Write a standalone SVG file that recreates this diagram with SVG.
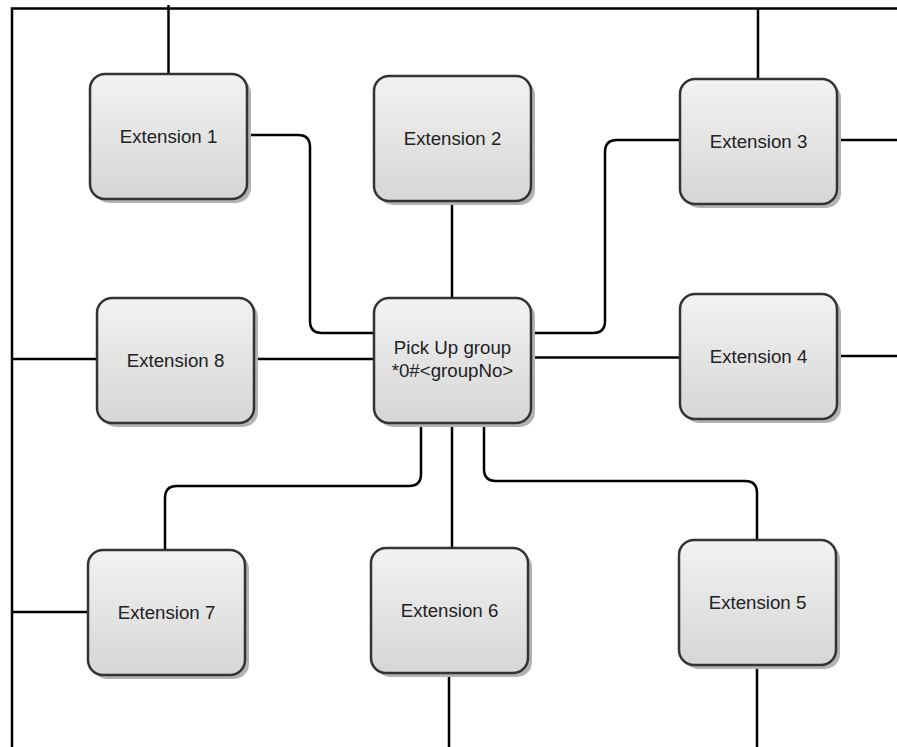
<svg xmlns="http://www.w3.org/2000/svg" width="897" height="747" viewBox="0 0 897 747">
<defs>
<linearGradient id="g" x1="0" y1="0" x2="0" y2="1">
<stop offset="0" stop-color="#f2f2f2"/>
<stop offset="1" stop-color="#d6d6d6"/>
</linearGradient>
<style>
.sh{fill:#b3b3b3}
.bx{fill:url(#g);stroke:#333;stroke-width:2.5}
.t{font-family:"Liberation Sans",Arial,sans-serif;font-size:18.7px;fill:#222;text-anchor:middle}
.c{fill:none;stroke:#000;stroke-width:2.5}
</style>
</defs>
<rect width="897" height="747" fill="#fff"/>
<g id="connectors">
<path class="c" d="M12,747 V8.5 H897"/>
<path class="c" d="M168.5,5 V74"/>
<path class="c" d="M758,8.5 V79"/>
<path class="c" d="M838,140 H897"/>
<path class="c" d="M680,140 H617 Q605,140 605,152 V321 Q605,333 593,333 H532"/>
<path class="c" d="M247,135 H298 Q310,135 310,147 V321 Q310,333 322,333 H374"/>
<path class="c" d="M452,201 V298"/>
<path class="c" d="M12,359 H97"/>
<path class="c" d="M253,359 H374"/>
<path class="c" d="M532,357.5 H680"/>
<path class="c" d="M838,356 H897"/>
<path class="c" d="M421,423 V474 Q421,486 409,486 H177 Q165,486 165,498 V550"/>
<path class="c" d="M12,612 H88"/>
<path class="c" d="M452,423 V548"/>
<path class="c" d="M449,673 V747"/>
<path class="c" d="M484,423 V469 Q484,481 496,481 H745 Q757,481 757,493 V540"/>
<path class="c" d="M757,666 V747"/>
</g>
<g id="ext1"><rect class="sh" x="94" y="78" width="157" height="125" rx="15"/><rect class="bx" x="90" y="74" width="157" height="125" rx="15"/><text class="t" x="168.5" y="143">Extension 1</text></g>
<g id="ext2"><rect class="sh" x="378" y="80" width="157" height="125" rx="15"/><rect class="bx" x="374" y="76" width="157" height="125" rx="15"/><text class="t" x="452.5" y="145">Extension 2</text></g>
<g id="ext3"><rect class="sh" x="684" y="83" width="157" height="125" rx="15"/><rect class="bx" x="680" y="79" width="157" height="125" rx="15"/><text class="t" x="758.5" y="148">Extension 3</text></g>
<g id="ext8"><rect class="sh" x="101" y="302" width="157" height="125" rx="15"/><rect class="bx" x="97" y="298" width="157" height="125" rx="15"/><text class="t" x="175.5" y="367">Extension 8</text></g>
<g id="pickup"><rect class="sh" x="378" y="302" width="157" height="125" rx="15"/><rect class="bx" x="374" y="298" width="157" height="125" rx="15"/><text class="t" x="452.5" y="354">Pick Up group</text><text class="t" x="452.5" y="377">*0#&lt;groupNo&gt;</text></g>
<g id="ext4"><rect class="sh" x="684" y="298" width="157" height="125" rx="15"/><rect class="bx" x="680" y="294" width="157" height="125" rx="15"/><text class="t" x="758.5" y="363">Extension 4</text></g>
<g id="ext7"><rect class="sh" x="92" y="554" width="157" height="125" rx="15"/><rect class="bx" x="88" y="550" width="157" height="125" rx="15"/><text class="t" x="166.5" y="619">Extension 7</text></g>
<g id="ext6"><rect class="sh" x="375" y="552" width="157" height="125" rx="15"/><rect class="bx" x="371" y="548" width="157" height="125" rx="15"/><text class="t" x="449.5" y="617">Extension 6</text></g>
<g id="ext5"><rect class="sh" x="683" y="544" width="157" height="125" rx="15"/><rect class="bx" x="679" y="540" width="157" height="125" rx="15"/><text class="t" x="757.5" y="609">Extension 5</text></g>
</svg>
